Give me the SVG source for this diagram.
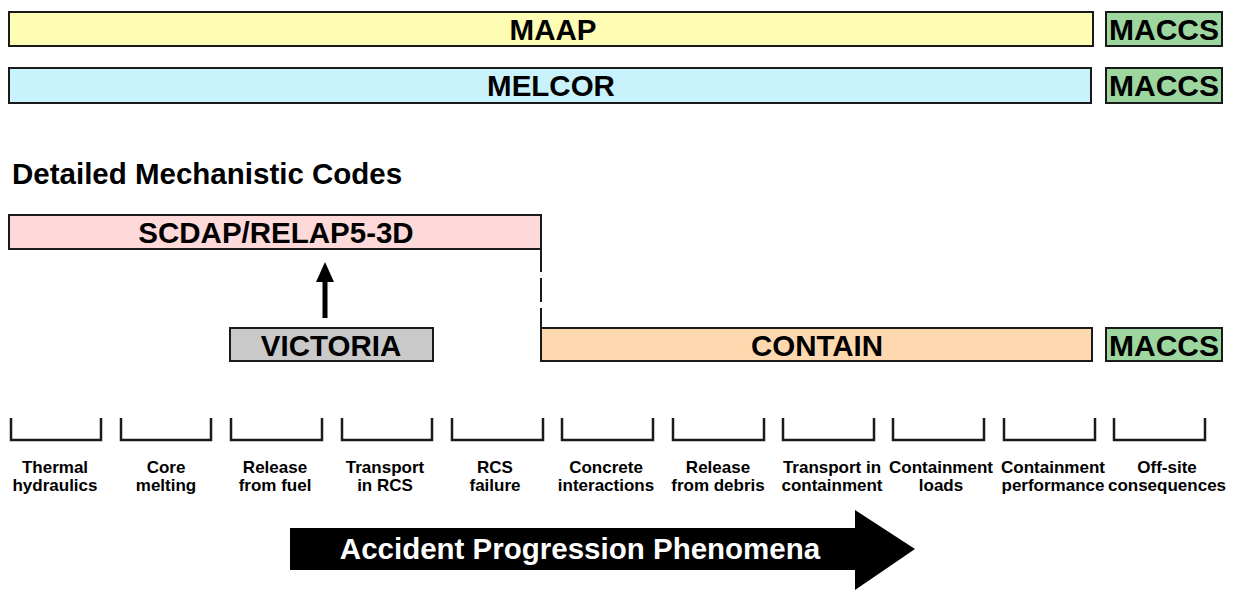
<svg xmlns="http://www.w3.org/2000/svg" width="1233" height="590" viewBox="0 0 1233 590">
<defs>
<style>
.box{stroke:#1a1a1a;stroke-width:2}
.t{font-family:"Liberation Sans",Arial,sans-serif;font-weight:bold;fill:#000;text-anchor:middle}
.big{font-size:29.5px}
.mc{font-size:30px}
.lbl{font-size:17px}
.br{fill:none;stroke:#1a1a1a;stroke-width:2.5}
</style>
</defs>
<rect width="1233" height="590" fill="#fff"/>
<g id="maap"><rect class="box" x="9" y="12" width="1084" height="34" fill="#fffcb3"/><text class="t big" x="553" y="40">MAAP</text></g>
<g id="maccs1"><rect class="box" x="1106" y="12" width="116" height="34" fill="#9ed69f"/><text class="t mc" x="1164" y="40">MACCS</text></g>
<g id="melcor"><rect class="box" x="9" y="68" width="1082" height="35" fill="#c8f2fc"/><text class="t big" x="551" y="96">MELCOR</text></g>
<g id="maccs2"><rect class="box" x="1106" y="68" width="116" height="35" fill="#9ed69f"/><text class="t mc" x="1164" y="96">MACCS</text></g>
<g id="heading"><text class="t" style="font-size:29.5px;text-anchor:start" x="12" y="184">Detailed Mechanistic Codes</text></g>
<g id="scdap"><rect class="box" x="9" y="215" width="532" height="34" fill="#fdd9d9"/><text class="t big" x="276" y="243">SCDAP/RELAP5-3D</text></g>
<g id="victoria"><rect class="box" x="230" y="328" width="203" height="33" fill="#c9c9c9"/><text class="t big" x="331" y="356">VICTORIA</text></g>
<g id="contain"><rect class="box" x="541" y="328" width="551" height="33" fill="#fed9b0"/><text class="t big" x="817" y="356">CONTAIN</text></g>
<g id="maccs3"><rect class="box" x="1106" y="328" width="116" height="33" fill="#9ed69f"/><text class="t mc" x="1164" y="356">MACCS</text></g>
<g id="connectors">
<line x1="325" y1="318" x2="325" y2="278" stroke="#000" stroke-width="5"/>
<polygon points="316,282 334,282 325,262" fill="#000"/>
<line x1="541" y1="249" x2="541" y2="272" stroke="#1a1a1a" stroke-width="2"/>
<line x1="541" y1="278" x2="541" y2="302" stroke="#1a1a1a" stroke-width="2"/>
<line x1="541" y1="308" x2="541" y2="328" stroke="#1a1a1a" stroke-width="2"/>
</g>
<g id="phases">
<path class="br" d="M11,418 V440 H101 V418"/>
<path class="br" d="M121,418 V440 H211 V418"/>
<path class="br" d="M231,418 V440 H322 V418"/>
<path class="br" d="M342,418 V440 H432 V418"/>
<path class="br" d="M452,418 V440 H543 V418"/>
<path class="br" d="M562,418 V440 H653 V418"/>
<path class="br" d="M673,418 V440 H764 V418"/>
<path class="br" d="M783,418 V440 H874 V418"/>
<path class="br" d="M893,418 V440 H984 V418"/>
<path class="br" d="M1004,418 V440 H1095 V418"/>
<path class="br" d="M1114,418 V440 H1205 V418"/>
<text class="t lbl" x="55" y="473">Thermal</text><text class="t lbl" x="55" y="491">hydraulics</text>
<text class="t lbl" x="166" y="473">Core</text><text class="t lbl" x="166" y="491">melting</text>
<text class="t lbl" x="275" y="473">Release</text><text class="t lbl" x="275" y="491">from fuel</text>
<text class="t lbl" x="385" y="473">Transport</text><text class="t lbl" x="385" y="491">in RCS</text>
<text class="t lbl" x="495" y="473">RCS</text><text class="t lbl" x="495" y="491">failure</text>
<text class="t lbl" x="606" y="473">Concrete</text><text class="t lbl" x="606" y="491">interactions</text>
<text class="t lbl" x="718" y="473">Release</text><text class="t lbl" x="718" y="491">from debris</text>
<text class="t lbl" x="832" y="473">Transport in</text><text class="t lbl" x="832" y="491">containment</text>
<text class="t lbl" x="941" y="473">Containment</text><text class="t lbl" x="941" y="491">loads</text>
<text class="t lbl" x="1053" y="473">Containment</text><text class="t lbl" x="1053" y="491">performance</text>
<text class="t lbl" x="1167" y="473">Off-site</text><text class="t lbl" x="1167" y="491">consequences</text>
</g>
<g id="progression">
<polygon points="290,528 855,528 855,510 915,549 855,590 855,570 290,570" fill="#000"/>
<text class="t" style="font-size:29.5px;fill:#fff" x="580" y="559">Accident Progression Phenomena</text>
</g>
</svg>
